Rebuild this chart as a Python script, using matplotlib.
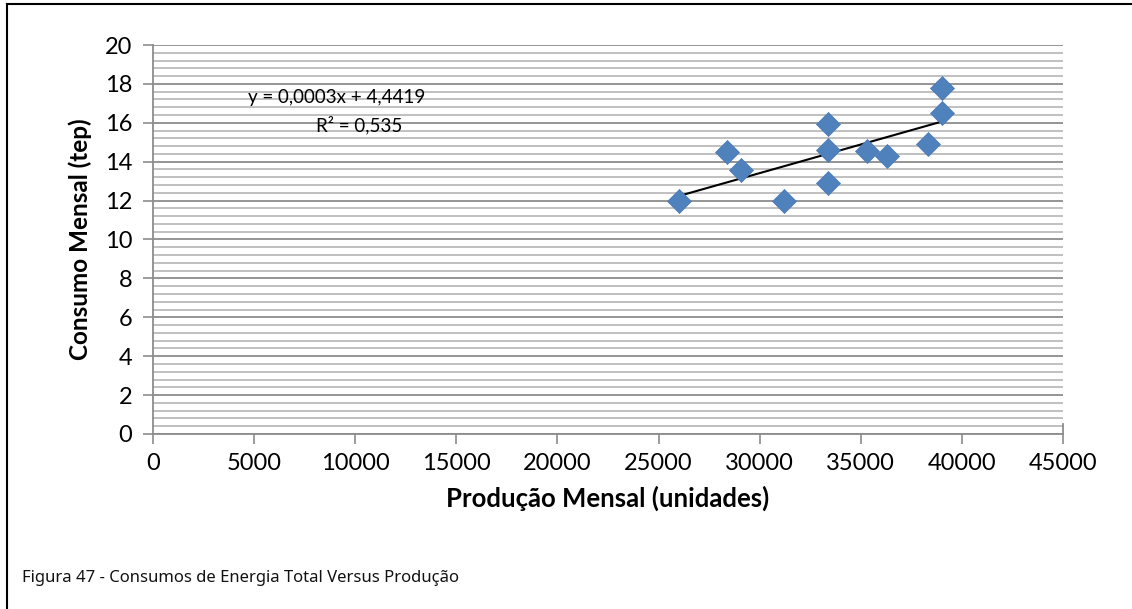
import numpy as np
import matplotlib.pyplot as plt
from matplotlib.lines import Line2D

producao = [26000, 28400, 29100, 31200, 33400, 33400, 33400, 35300, 36300, 38300, 39000, 39000]
consumo = [12.0, 14.5, 13.55, 12.0, 15.95, 14.6, 12.9, 14.55, 14.3, 14.9, 17.8, 16.5]
eq_text = "y = 0,0003x + 4,4419"
r2_text = "R² = 0,535"
xlabel = "Produção Mensal (unidades)"
ylabel = "Consumo Mensal (tep)"
caption = "Figura 47 - Consumos de Energia Total Versus Produção"

plt.rcParams['font.family'] = ['Lato', 'DejaVu Sans']

fig = plt.figure(figsize=(11.32, 6.09), dpi=100)
W, H = 1132, 609
ax = fig.add_axes([153 / W, 1 - 434 / H, (1063 - 153) / W, (434 - 45) / H])

ax.set_xlim(0, 45000)
ax.set_ylim(0, 20)
ax.set_xticks(np.arange(0, 45001, 5000))
ax.set_yticks(np.arange(0, 21, 2))
ax.set_yticks(np.arange(0, 20.01, 0.4), minor=True)
ax.tick_params(axis='y', which='minor', length=0)
ax.tick_params(axis='both', which='major', length=7, width=1.2, color='#8c8c8c',
               labelsize=17)
ax.tick_params(axis='y', pad=8)
ax.tick_params(axis='x', pad=7)

ax.grid(axis='y', which='major', color='#8c8c8c', linewidth=1.3)
ax.grid(axis='y', which='minor', color='#c0c0c0', linewidth=1.4)
ax.set_axisbelow(True)

for s in ['top', 'right']:
    ax.spines[s].set_visible(False)
for s in ['left', 'bottom']:
    ax.spines[s].set_color('#8c8c8c')
    ax.spines[s].set_linewidth(1.3)
ax.spines['right'].set_visible(True)
ax.spines['right'].set_bounds(0, 0.5)
ax.spines['right'].set_color('#8c8c8c')
ax.spines['right'].set_linewidth(1.3)

x = np.array(producao)
y = np.array(consumo)
k, b = np.polyfit(x, y, 1)
xl = np.array([x.min(), x.max()])
ax.plot(xl, k * xl + b, color='black', linewidth=1.5, zorder=3)
ax.scatter(x, y, marker='D', s=150, color='#4f81bd', edgecolors='#4a7ab5',
           linewidths=0.5, zorder=4)

ax.text(9100, 17.28, eq_text, ha='center', va='center', fontsize=13.5)
ax.text(10200, 15.9, r2_text, ha='center', va='center', fontsize=13.5)

ax.set_xlabel(xlabel, fontsize=18.5, fontweight='bold', labelpad=8)
ax.set_ylabel(ylabel, fontsize=17.5, fontweight='bold', labelpad=9)

fig.text(22 / W, 1 - 578 / H, caption, fontsize=12, va='center',
         family=['Noto Sans', 'DejaVu Sans'], color='#111111')

fig.add_artist(Line2D([7 / W, 7 / W], [0, 1 - 4 / H], color='black', linewidth=1.5,
                      transform=fig.transFigure))
fig.add_artist(Line2D([7 / W, 1], [1 - 4 / H, 1 - 4 / H], color='black', linewidth=1.5,
                      transform=fig.transFigure))

fig.savefig('out.png', dpi=100)
